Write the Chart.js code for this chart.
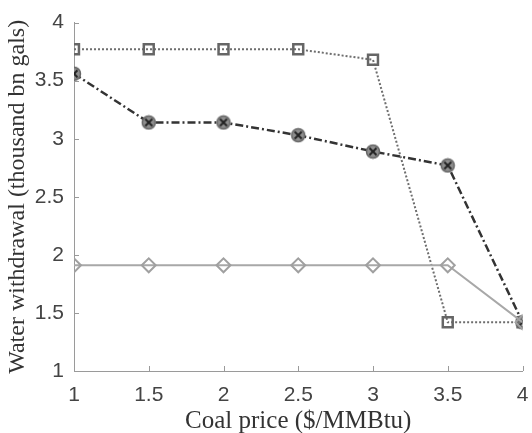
<!DOCTYPE html>
<html>
<head>
<meta charset="utf-8">
<script src="https://cdn.jsdelivr.net/npm/chart.js@4"></script>
<style>
html,body{margin:0;padding:0;background:#fff;}
#wrap{width:532px;height:433px;}
</style>
</head>
<body>
<div id="wrap"><canvas id="c" width="532" height="433"></canvas></div>
<script>
const coalPrice = [1, 1.5, 2, 2.5, 3, 3.5, 4];
const seriesSquare = [3.77, 3.77, 3.77, 3.77, 3.68, 1.42, 1.42];
const seriesCircleX = [3.56, 3.14, 3.14, 3.03, 2.89, 2.77, 1.42];
const seriesDiamond = [1.91, 1.91, 1.91, 1.91, 1.91, 1.91, 1.42];
const xTicks = [1, 1.5, 2, 2.5, 3, 3.5, 4];
const yTicks = [1, 1.5, 2, 2.5, 3, 3.5, 4];

function toXY(ys){ return coalPrice.map((x,i)=>({x:x,y:ys[i]})); }

// custom marker: filled gray circle with an X
const cx = document.createElement('canvas');
cx.width = 16; cx.height = 16;
(function(){
  const g = cx.getContext('2d');
  g.beginPath(); g.arc(8,8,6.5,0,Math.PI*2);
  g.fillStyle = '#8f8f8f'; g.fill();
  g.lineWidth = 1.5; g.strokeStyle = '#666'; g.stroke();
  g.beginPath();
  g.moveTo(4.5,4.5); g.lineTo(11.5,11.5); g.moveTo(11.5,4.5); g.lineTo(4.5,11.5);
  g.lineWidth = 2; g.strokeStyle = '#222'; g.stroke();
})();

const inwardTicks = {
  id:'inwardTicks',
  afterDraw(chart){
    const ctx = chart.ctx, xs = chart.scales.x, ys = chart.scales.y, a = chart.chartArea;
    ctx.save();
    ctx.strokeStyle = '#9a9a9a'; ctx.lineWidth = 1;
    ctx.beginPath();
    xs.ticks.forEach((t,i)=>{ const p = Math.round(xs.getPixelForTick(i))+0.5; ctx.moveTo(p,a.bottom); ctx.lineTo(p,a.bottom-5); });
    ys.ticks.forEach((t,i)=>{ const p = Math.round(ys.getPixelForTick(i))+0.5; ctx.moveTo(a.left,p); ctx.lineTo(a.left+5,p); });
    ctx.stroke();
    ctx.restore();
  }
};

new Chart(document.getElementById('c'), {
  type:'line',
  data:{
    datasets:[
      { label:'Diamond', data:toXY(seriesDiamond), borderColor:'#a8a8a8', borderWidth:2,
        pointStyle:'rectRot', pointRadius:7, pointBorderWidth:2, pointBorderColor:'#a0a0a0', pointBackgroundColor:'rgba(255,255,255,0)' },
      { label:'Square', data:toXY(seriesSquare), borderColor:'#6e6e6e', borderWidth:2, borderDash:[2,2],
        pointStyle:'rect', pointRadius:7, pointBorderWidth:2.5, pointBorderColor:'#666', pointBackgroundColor:'rgba(255,255,255,0)' },
      { label:'CircleX', data:toXY(seriesCircleX), borderColor:'#333', borderWidth:2.5, borderDash:[8,3,2,3],
        pointStyle:cx, pointRadius:7 }
    ]
  },
  options:{
    responsive:false, animation:false,
    layout:{padding:{top:12,right:7,left:0,bottom:0}},
    plugins:{legend:{display:false}, tooltip:{enabled:false}},
    scales:{
      x:{ type:'linear', min:1, max:4,
        afterBuildTicks(s){ s.ticks = xTicks.map(v=>({value:v})); },
        afterFit(s){ s.height = 62; s.paddingRight = 0; s.paddingLeft = 0; },
        grid:{display:true, drawOnChartArea:false, drawTicks:false, color:'#9a9a9a'},
        border:{display:true, color:'#9a9a9a', width:1},
        ticks:{ padding:12, color:'#444', font:{family:'Liberation Sans', size:21}, maxRotation:0, callback:(v)=>String(v) },
        title:{display:true, text:'Coal price ($/MMBtu)', color:'#333', font:{family:'Liberation Serif', size:25}, padding:{top:0,bottom:-3}}
      },
      y:{ type:'linear', min:1, max:4,
        afterBuildTicks(s){ s.ticks = yTicks.map(v=>({value:v})); },
        afterFit(s){ s.width = 74; },
        grid:{display:true, drawOnChartArea:false, drawTicks:false, color:'#9a9a9a'},
        border:{display:true, color:'#9a9a9a', width:1},
        ticks:{ padding:10, color:'#444', font:{family:'Liberation Sans', size:21}, callback:(v)=>String(v) },
        title:{display:true, text:'Water withdrawal (thousand bn gals)', color:'#333', font:{family:'Liberation Serif', size:24}, padding:{top:3,bottom:2}}
      }
    }
  },
  plugins:[inwardTicks]
});
</script>
</body>
</html>
